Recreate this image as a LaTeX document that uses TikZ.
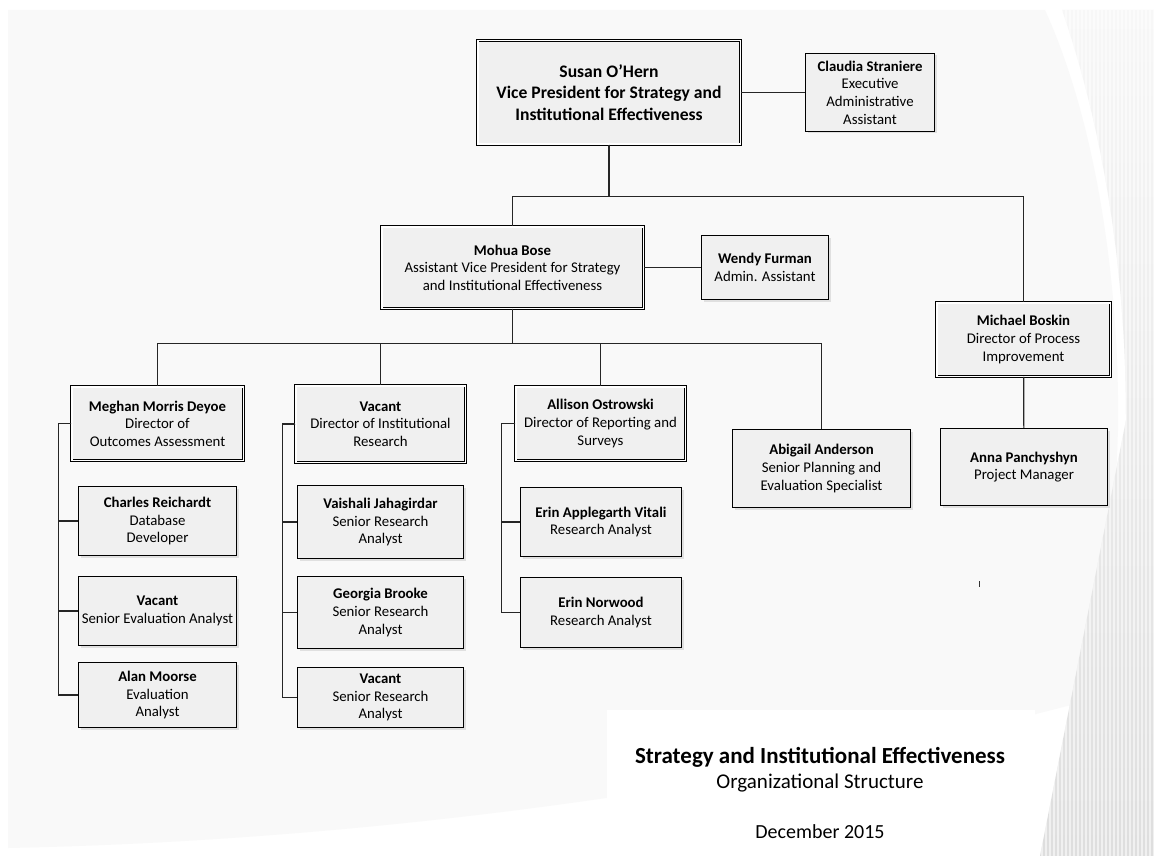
\documentclass[tikz,border=0pt]{standalone}
\usepackage{fontspec}
\setmainfont{Carlito}
\usetikzlibrary{positioning,calc,shadows}

\begin{document}
\begin{tikzpicture}[x=1pt, y=-1pt,
    box/.style={draw, rectangle, fill=black!6, line width=1.1pt, align=center, inner sep=1pt,
        font=\fontsize{14.8}{17.6}\selectfont,
        drop shadow={shadow xshift=2pt, shadow yshift=-2pt, fill=black!12, opacity=1}},
    dbox/.style={box, double=white, double distance=1.6pt, line width=0.9pt},
    link/.style={draw, black!85, line width=1.2pt}
]
    \useasboundingbox (0,0) rectangle (1154,856);

    % Slide background
    \fill[white] (0,0) rectangle (1154,856);
    \fill[black!2.5] (8,10) -- (1045,10) .. controls (1095,120) and (1120,280) .. (1118,430)
        -- (1108,695) .. controls (800,780) and (400,840) .. (8,848) -- cycle;
    \begin{scope}
        \clip (1062,10) .. controls (1100,120) and (1126,260) .. (1126,420) -- (1040,856)
            -- (1154,856) -- (1154,10) -- cycle;
        \shade[top color=black!3, bottom color=black!13] (1030,0) rectangle (1154,856);
        \foreach \x in {1030,1034,...,1154}
            \draw[white, opacity=0.55, line width=1.4pt] (\x,0) -- (\x,856);
    \end{scope}
    \fill[white] (607,710) rectangle (1035,856);

    % Boxes
    \node[dbox, minimum width=262.6, minimum height=103.6, font=\bfseries\fontsize{17.6}{21.5}\selectfont]
        (ohern) at (609,92.5) {Susan O’Hern\\Vice President for Strategy and\\Institutional Effectiveness};
    \node[box, minimum width=129, minimum height=78] (straniere) at (870,92.5)
        {\textbf{Claudia Straniere}\\Executive\\Administrative\\Assistant};
    \node[dbox, minimum width=261.6, minimum height=81.6] (bose) at (512.5,267.5)
        {\textbf{Mohua Bose}\\Assistant Vice President for Strategy\\and Institutional Effectiveness};
    \node[box, minimum width=127, minimum height=64] (furman) at (765,267.5)
        {\textbf{Wendy Furman}\\Admin. Assistant};
    \node[dbox, minimum width=173.6, minimum height=73.6] (boskin) at (1023.5,339.5)
        {\textbf{Michael Boskin}\\Director of Process\\Improvement};
    \node[box, minimum width=167, minimum height=77] (panchyshyn) at (1024,467)
        {\textbf{Anna Panchyshyn}\\Project Manager};

    \node[dbox, minimum width=171.6, minimum height=73.6] (deyoe) at (157.5,423.5)
        {\textbf{Meghan Morris Deyoe}\\Director of\\Outcomes Assessment};
    \node[dbox, minimum width=169.6, minimum height=76.6] (irdir) at (380.5,424)
        {\textbf{Vacant}\\Director of Institutional\\Research};
    \node[dbox, minimum width=169.6, minimum height=73.6] (ostrowski) at (600.5,423.5)
        {\textbf{Allison Ostrowski}\\Director of Reporting and\\Surveys};
    \node[box, minimum width=178, minimum height=78] (anderson) at (821.5,468.5)
        {\textbf{Abigail Anderson}\\Senior Planning and\\Evaluation Specialist};

    \node[box, minimum width=158, minimum height=69] (reichardt) at (157.5,521)
        {\textbf{Charles Reichardt}\\Database\\Developer};
    \node[box, minimum width=158, minimum height=69] (seavac) at (157.5,611)
        {\textbf{Vacant}\\Senior Evaluation Analyst};
    \node[box, minimum width=158, minimum height=65] (moorse) at (157.5,695)
        {\textbf{Alan Moorse}\\Evaluation\\Analyst};

    \node[box, minimum width=166, minimum height=73] (jahagirdar) at (380.5,522)
        {\textbf{Vaishali Jahagirdar}\\Senior Research\\Analyst};
    \node[box, minimum width=166, minimum height=72] (brooke) at (380.5,612.5)
        {\textbf{Georgia Brooke}\\Senior Research\\Analyst};
    \node[box, minimum width=166, minimum height=60] (sravac) at (380.5,697.5)
        {\textbf{Vacant}\\Senior Research\\Analyst};

    \node[box, minimum width=161, minimum height=69] (vitali) at (601,522)
        {\textbf{Erin Applegarth Vitali}\\Research Analyst};
    \node[box, minimum width=161, minimum height=70] (norwood) at (601,612.5)
        {\textbf{Erin Norwood}\\Research Analyst};

    % Lines
    \draw[link] (ohern) -- (straniere);
    \draw[link] (bose) -- (furman);
    \draw[link] (ohern.south) -- ++(0,52) -| (bose.north);
    \draw[link] (ohern.south) -- ++(0,52) -| (boskin.north);
    \draw[link] (boskin) -- (panchyshyn);
    \foreach \n in {deyoe, irdir, ostrowski, anderson}
        \draw[link] (bose.south) -- ++(0,35) -| (\n.north);
    \foreach \n in {reichardt, seavac, moorse}
        \draw[link] (deyoe.west) -- ++(-13,0) |- (\n.west);
    \foreach \n in {jahagirdar, brooke, sravac}
        \draw[link] (irdir.west) -- ++(-13,0) |- (\n.west);
    \foreach \n in {vitali, norwood}
        \draw[link] (ostrowski.west) -- ++(-14,0) |- (\n.west);

    \fill[black!80] (978.6,581) rectangle (980,587);

    % Title
    \node[font=\bfseries\fontsize{23}{27}\selectfont] (title) at (820,757)
        {Strategy and Institutional Effectiveness};
    \node[font=\fontsize{21}{25}\selectfont] (subtitle) at (820,783) {Organizational Structure};
    \node[font=\fontsize{20}{24}\selectfont] (date) at (820,832) {December 2015};
\end{tikzpicture}
\end{document}
